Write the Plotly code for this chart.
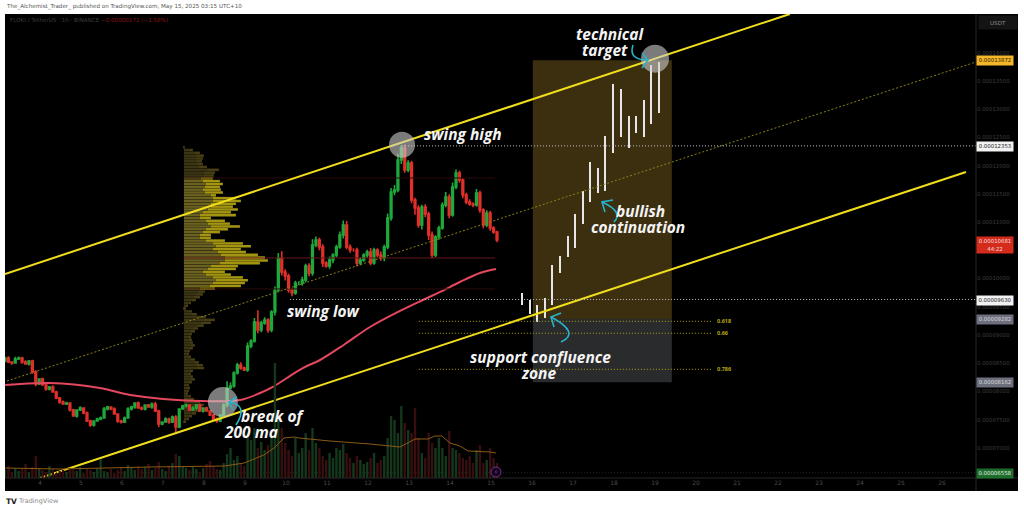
import numpy as np
import plotly.graph_objects as go

PRICE_UNIT = 1e-8
FIRST_BAR_DAY = 3.146
BAR_STEP_DAYS = 1 / 12

CLOSES = [
    8593, 8522, 8504, 8575, 8593, 8522, 8486, 8540, 8344, 8132,
    8220, 8114, 8043, 8079, 7990, 7884, 7813, 7777, 7795, 7671,
    7564, 7671, 7706, 7618, 7476, 7405, 7476, 7511, 7529, 7688,
    7724, 7688, 7600, 7476, 7458, 7529, 7688, 7724, 7795, 7706,
    7688, 7759, 7724, 7777, 7653, 7423, 7458, 7511, 7458, 7547,
    7369, 7688, 7742, 7759, 7671, 7706, 7759, 7653, 7706, 7653,
    7582, 7511, 7476, 7582, 7759, 8061, 8096, 8327, 8469, 8415,
    8380, 8805, 8894, 9231, 9089, 9213, 9266, 9089, 9408, 9798,
    10366, 10117, 10046, 9798, 9745, 9922, 9922, 9975, 10224, 10100,
    10596, 10685, 10561, 10277, 10224, 10330, 10419, 10561, 10773, 10951,
    10561, 10507, 10507, 10277, 10330, 10419, 10472, 10277, 10507, 10419,
    10366, 10561, 11075, 11536, 11571, 12103, 12316, 11926, 12050, 11394,
    11252, 10951, 11270, 11146, 10773, 10419, 10738, 10898, 11305, 11447,
    11128, 11624, 11873, 11749, 11483, 11359, 11323, 11305, 11518, 11217,
    10951, 11164, 10898, 10827, 10685,
]
WICK_UP = [
    20, 30, 15, 40, 25, 20, 30, 15, 20, 30,
    15, 25, 20, 15, 30, 20, 15, 25, 20, 10,
    20, 15, 30, 10, 25, 20, 15, 20, 25, 35,
    20, 15, 30, 10, 20, 25, 30, 20, 15, 25,
    30, 15, 20, 25, 40, 20, 15, 30, 20, 25,
    30, 15, 20, 25, 15, 30, 20, 25, 15, 20,
    15, 20, 25, 15, 30, 120, 60, 30, 40, 50,
    25, 60, 30, 70, 210, 40, 50, 30, 30, 60,
    90, 120, 50, 40, 30, 40, 30, 60, 40, 50,
    100, 60, 40, 50, 30, 60, 30, 40, 60, 80,
    70, 50, 30, 40, 50, 30, 40, 70, 40, 30,
    60, 40, 80, 70, 90, 110, 50, 60, 50, 40,
    40, 50, 40, 50, 40, 60, 30, 40, 50, 90,
    50, 80, 60, 40, 30, 40, 50, 30, 70, 40,
    30, 50, 40, 30, 20,
]
WICK_DOWN = [
    25, 20, 30, 15, 20, 30, 15, 25, 30, 40,
    20, 15, 30, 25, 15, 25, 30, 15, 20, 25,
    15, 30, 20, 25, 20, 30, 25, 15, 20, 15,
    25, 20, 15, 30, 25, 20, 15, 25, 30, 15,
    20, 25, 15, 30, 20, 60, 25, 15, 30, 20,
    100, 20, 15, 25, 20, 15, 30, 20, 25, 15,
    20, 25, 30, 20, 25, 40, 20, 30, 25, 30,
    20, 30, 40, 30, 60, 40, 30, 50, 40, 60,
    40, 60, 80, 50, 60, 30, 40, 50, 40, 60,
    50, 40, 60, 70, 30, 50, 60, 40, 30, 60,
    40, 50, 30, 60, 40, 30, 50, 40, 30, 40,
    50, 60, 40, 50, 60, 40, 70, 50, 40, 60,
    120, 50, 80, 60, 90, 60, 40, 50, 30, 40,
    60, 30, 40, 50, 60, 40, 30, 40, 30, 50,
    60, 40, 50, 30, 40,
]
VOLUMES = [
    8, 12, 6, 10, 7, 9, 14, 6, 11, 22,
    10, 8, 6, 12, 9, 5, 7, 8, 6, 10,
    8, 7, 11, 5, 9, 8, 6, 10, 19, 7,
    6, 9, 5, 8, 11, 7, 13, 10, 8, 12,
    9, 11, 14, 8, 10, 16, 9, 7, 12, 15,
    24, 22, 12, 10, 8, 11, 9, 6, 10, 14,
    17, 12, 9, 8, 15, 24, 30, 18, 22, 14,
    12, 45, 38, 50, 30, 36, 28, 33, 40, 115,
    62, 50, 35, 28, 22, 40, 25, 30, 45, 28,
    50, 35, 30, 22, 18, 25, 20, 30, 28, 34,
    25, 20, 15, 22, 18, 14, 16, 20, 25, 15,
    18, 22, 40, 62, 58, 45, 72, 55, 48, 45,
    70, 40, 25, 20, 45, 35, 30, 40, 30, 22,
    47, 30, 28, 25, 20, 18, 22, 15, 28, 33,
    15, 18, 30, 20, 15,
]

MA200_DAYS = [3.15, 4.24, 5.46, 6.2, 7.9, 8.88, 9.37, 9.68, 10.02, 10.41, 10.83, 11.44, 12.05, 12.78, 13.34, 13.76, 14.24, 14.73, 15.12]
MA200_PRICE = [8114, 8149, 8061, 7937, 7830, 7848, 7972, 8079, 8238, 8415, 8557, 8841, 9142, 9426, 9621, 9763, 9940, 10100, 10171]

VOLMA_DAYS = [3.15, 4.5, 6.68, 8.5, 8.98, 9.46, 9.71, 9.95, 10.2, 10.32, 11.07, 12.05, 12.78, 13.15, 13.46, 13.63, 13.8, 14.0, 14.24, 14.44, 14.98, 15.12]
VOLMA_VALUE = [10, 9, 11, 12, 15, 23, 30, 40, 41, 40, 37, 34, 31, 39, 39, 42, 42, 35, 32, 27, 26, 25]

PROJ_DAYS = [15.76, 15.95, 16.12, 16.32, 16.49, 16.68, 16.88, 17.05, 17.24, 17.41, 17.61, 17.78, 17.98, 18.17, 18.37, 18.54, 18.73, 18.9, 19.1]
PROJ_HIGH = [9745, 9621, 9532, 9657, 10242, 10401, 10756, 11146, 11554, 12068, 11961, 12529, 13451, 13362, 12883, 12883, 13167, 13788, 13841]
PROJ_LOW = [9532, 9373, 9231, 9302, 9532, 10099, 10383, 10543, 10968, 11359, 11518, 11554, 12227, 12511, 12316, 12582, 12511, 12742, 12936]

UPPER_DAYS, UPPER_PRICE = [3.146, 22.29], [10082, 14692]
MIDDLE_DAYS, MIDDLE_PRICE = [3.195, 26.83], [8185, 13841]
LOWER_DAYS, LOWER_PRICE = [4.0, 26.585], [6465, 11890]

SWING_HIGH_PRICE, SWING_LOW_PRICE = 12353, 9630
SWING_HIGH_START, SWING_LOW_START = 12.83, 10.10
FIB_LEVELS = ["0.618", "0.66", "0.786"]
FIB_PRICE = [9243, 9031, 8392]
FIB_START, FIB_END = 13.24, 20.37

ZONE_START, ZONE_END = 16.02, 19.41
ZONE_TOP, ZONE_MID, ZONE_BOTTOM = 13872, 9282, 8162

PROFILE_START = 7.51
PROFILE_TOP = 12330
PROFILE_ROW = 50.2
VALUE_HIGH, POC, VALUE_LOW = 11784, 10366, 9816
PROFILE_TOTAL = [
    1, 9, 16, 20, 19, 18, 19, 23, 35, 31, 30,
    29, 36, 39, 36, 37, 39, 32, 52, 57, 52, 49, 54, 47, 52, 27, 41, 46, 56, 44,
    36, 27, 27, 41, 59, 67, 57, 62, 74, 81, 84, 76, 54, 52, 41, 47, 59, 64, 61, 57, 31,
    21, 19, 16, 12, 7, 4, 2,
    8, 13, 22, 31, 27, 20, 14, 11, 8, 7, 8, 9, 11, 9, 6, 5, 7, 11, 15, 19, 20, 9,
    7, 9, 11, 8, 5, 6, 5, 4, 7, 10, 16, 20, 18, 16, 12, 8, 5, 2,
]
PROFILE_UP = [
    1, 6, 11, 13, 12, 12, 13, 15, 23, 20, 20,
    17, 19, 22, 21, 19, 21, 27, 29, 29, 27, 27, 24, 19, 16, 16, 22, 24, 27, 22,
    19, 16, 16, 22, 29, 32, 29, 34, 37, 41, 41, 36, 27, 24, 19, 22, 29, 32, 29, 26, 16,
    14, 12, 10, 8, 5, 3, 1,
    5, 8, 14, 20, 17, 13, 9, 7, 5, 4, 5, 6, 7, 6, 4, 3, 5, 7, 10, 12, 13, 6,
    5, 6, 7, 5, 3, 4, 3, 3, 5, 6, 10, 13, 12, 10, 8, 5, 3, 1,
]

PRICE_TICKS = [14000, 13500, 13000, 12500, 12000, 11500, 11000, 10000, 9500, 9000, 8500, 8000, 7500, 7000]
DAY_TICKS = list(range(4, 27))

W, H = 1024, 510
LEFT, RIGHT, TOP, BOTTOM = 5, 976, 14, 478
CHART_RIGHT, CHART_BOTTOM = 1018, 491


def fx(px):
    return (px - LEFT) / (RIGHT - LEFT)


def fy(py):
    return (BOTTOM - py) / (BOTTOM - TOP)


def pr(values):
    return np.array(values, dtype=float) * PRICE_UNIT


closes = np.array(CLOSES, dtype=float)
opens = np.concatenate([[8540.0], closes[:-1]])
highs = np.maximum(opens, closes) + np.array(WICK_UP)
lows = np.minimum(opens, closes) - np.array(WICK_DOWN)
days = FIRST_BAR_DAY + np.arange(len(closes)) * BAR_STEP_DAYS

fig = go.Figure()

# volume profile
rows = PROFILE_TOP - np.arange(len(PROFILE_TOTAL)) * PROFILE_ROW
total = np.array(PROFILE_TOTAL, dtype=float)
up = np.array(PROFILE_UP, dtype=float)
inside = (rows <= VALUE_HIGH) & (rows >= VALUE_LOW)
scale = 1 / 41
fig.add_trace(go.Bar(y=pr(rows), x=up * scale, base=PROFILE_START, orientation="h", width=PROFILE_ROW * PRICE_UNIT * 0.9,
                     marker=dict(color=["#6a6120" if k else "#3c3514" for k in inside], line_width=0), hoverinfo="skip"))
fig.add_trace(go.Bar(y=pr(rows), x=(total - up) * scale, base=PROFILE_START + up * scale, orientation="h",
                     width=PROFILE_ROW * PRICE_UNIT * 0.9,
                     marker=dict(color=["#a39412" if k else "#463e14" for k in inside], line_width=0), hoverinfo="skip"))

# volume bars
vol_colors = ["#15381d" if c >= o else "#380f11" for c, o in zip(closes, opens)]
fig.add_trace(go.Bar(x=days, y=VOLUMES, yaxis="y2", width=BAR_STEP_DAYS * 0.7,
                     marker=dict(color=vol_colors, line_width=0), hoverinfo="skip"))

# projected path
fig.add_trace(go.Bar(x=PROJ_DAYS, y=pr(np.array(PROJ_HIGH) - np.array(PROJ_LOW)), base=pr(PROJ_LOW), width=0.04,
                     marker=dict(color="#e6e6e6", line_width=0), hoverinfo="skip"))

# candles
fig.add_trace(go.Candlestick(x=days, open=pr(opens), high=pr(highs), low=pr(lows), close=pr(closes),
                             increasing=dict(line=dict(color="#1fa83c", width=1.6), fillcolor="#1fa83c"),
                             decreasing=dict(line=dict(color="#e0302a", width=1.6), fillcolor="#e0302a"),
                             whiskerwidth=0, hoverinfo="skip"))

# moving averages
fig.add_trace(go.Scatter(x=VOLMA_DAYS, y=VOLMA_VALUE, yaxis="y2", mode="lines", line=dict(color="#8c5a14", width=1)))
fig.add_trace(go.Scatter(x=MA200_DAYS, y=pr(MA200_PRICE), mode="lines", line=dict(color="#e5475f", width=2, shape="spline")))

# value area lines
for price, colour in [(VALUE_HIGH, "#2e0a0a"), (POC, "#681616"), (VALUE_LOW, "#2e0a0a")]:
    fig.add_trace(go.Scatter(x=[PROFILE_START, 15.1], y=pr([price, price]), mode="lines", line=dict(color=colour, width=1)))

# channel
fig.add_trace(go.Scatter(x=MIDDLE_DAYS, y=pr(MIDDLE_PRICE), mode="lines", line=dict(color="#8d8214", width=1, dash="2px,2px")))
fig.add_trace(go.Scatter(x=UPPER_DAYS, y=pr(UPPER_PRICE), mode="lines", line=dict(color="#f0de1c", width=2)))
fig.add_trace(go.Scatter(x=LOWER_DAYS, y=pr(LOWER_PRICE), mode="lines", line=dict(color="#f0de1c", width=2)))

# horizontal levels
for start, price in [(SWING_HIGH_START, SWING_HIGH_PRICE), (SWING_LOW_START, SWING_LOW_PRICE)]:
    fig.add_trace(go.Scatter(x=[start, 26.83], y=pr([price, price]), mode="lines", line=dict(color="#c4c4c4", width=1, dash="1px,2px")))
for price in FIB_PRICE:
    fig.add_trace(go.Scatter(x=[FIB_START, FIB_END], y=pr([price, price]), mode="lines", line=dict(color="#b3a512", width=1, dash="1px,2px")))
fig.add_trace(go.Scatter(x=[3.146, 26.83], y=pr([6558, 6558]), mode="lines", line=dict(color="#1a2a1a", width=1, dash="1px,2px")))

shapes = [
    dict(type="rect", xref="paper", yref="paper", x0=0, x1=fx(CHART_RIGHT), y0=fy(CHART_BOTTOM), y1=1,
         fillcolor="#000000", line_width=0, layer="below"),
    dict(type="rect", xref="x", yref="y", x0=ZONE_START, x1=ZONE_END, y0=ZONE_MID * PRICE_UNIT, y1=ZONE_TOP * PRICE_UNIT,
         fillcolor="#3c2f10", line_width=0, layer="below"),
    dict(type="rect", xref="x", yref="y", x0=ZONE_START, x1=ZONE_END, y0=ZONE_BOTTOM * PRICE_UNIT, y1=ZONE_MID * PRICE_UNIT,
         fillcolor="#2a2b2d", line_width=0, layer="below"),
    dict(type="line", xref="paper", yref="paper", x0=1, x1=1, y0=fy(CHART_BOTTOM), y1=1, line=dict(color="#262626", width=1)),
    dict(type="line", xref="paper", yref="paper", x0=0, x1=fx(CHART_RIGHT), y0=0, y1=0, line=dict(color="#262626", width=1)),
]

# highlight circles
for day, price, radius in [(12.83, 12373, 13), (8.46, 7812, 15), (19.0, 13899, 14)]:
    shapes.append(dict(type="circle", xref="x", yref="y", xsizemode="pixel", ysizemode="pixel",
                       xanchor=day, yanchor=price * PRICE_UNIT, x0=-radius, x1=radius, y0=-radius, y1=radius,
                       fillcolor="rgba(205,205,205,0.6)", line_width=0))


def stroke(pts, curve=True):
    (x0, y0) = pts[0]
    d = f"M {fx(x0):.5f} {fy(y0):.5f}"
    if curve:
        for i in range(1, len(pts) - 1, 2):
            (cx, cy), (ex, ey) = pts[i], pts[i + 1]
            d += f" Q {fx(cx):.5f} {fy(cy):.5f} {fx(ex):.5f} {fy(ey):.5f}"
    else:
        for (ex, ey) in pts[1:]:
            d += f" L {fx(ex):.5f} {fy(ey):.5f}"
    return dict(type="path", xref="paper", yref="paper", path=d, line=dict(color="#27b4cb", width=1.6))


ARROWS = [
    ([(236, 425), (249, 405), (229, 402)], [(237, 397), (229, 402), (233, 410)]),
    ([(633, 45), (628, 60), (648, 60)], [(642, 53), (648, 60), (642, 68)]),
    ([(614, 222), (624, 212), (602, 202)], [(613, 200), (602, 202), (605, 212)]),
    ([(561, 342), (581, 333), (551, 317)], [(561, 313), (551, 317), (554, 327)]),
]
for curve_pts, head_pts in ARROWS:
    shapes.append(stroke(curve_pts))
    shapes.append(stroke(head_pts, curve=False))

# purple badge
shapes.append(dict(type="circle", xref="paper", yref="paper", x0=fx(491), x1=fx(501), y0=fy(477), y1=fy(467),
                   fillcolor="#12051a", line=dict(color="#7a2f8f", width=1)))
shapes.append(dict(type="path", xref="paper", yref="paper",
                   path=f"M {fx(497):.5f} {fy(469):.5f} L {fx(494.5):.5f} {fy(472.5):.5f} L {fx(496.3):.5f} {fy(472.5):.5f} "
                        f"L {fx(495):.5f} {fy(475):.5f} L {fx(497.5):.5f} {fy(471.5):.5f} L {fx(495.8):.5f} {fy(471.5):.5f} Z",
                   fillcolor="#7a2f8f", line_width=0))

annotations = []


def label(px, py, text, size=15.5, color="#f4f4f4", family="Open Sans", bold=True, italic=True, anchor="center", bg=None, w=None, h=None):
    t = text
    if bold:
        t = f"<b>{t}</b>"
    if italic:
        t = f"<i>{t}</i>"
    annotations.append(dict(x=fx(px), y=fy(py), xref="paper", yref="paper", text=t, showarrow=False, xanchor=anchor, yanchor="middle",
                            font=dict(size=size, color=color, family=family), bgcolor=bg, width=w, height=h, borderpad=0, align="center"))


label(610, 34, "technical")
label(605, 50, "target")
label(463, 134, "swing high")
label(323, 311, "swing low")
label(272, 416, "break of")
label(251, 432, "200 ma")
label(640, 211, "bullish")
label(638, 227, "continuation")
label(540, 357, "support confluence")
label(538, 373, "zone")

for price_label, py in zip(FIB_LEVELS, [321.3, 333.3, 369.3]):
    label(716, py, price_label, size=5.5, color="#b3a512", family="Noto Sans", italic=False, anchor="left")

small = dict(family="DejaVu Sans", bold=False, italic=False, anchor="left")
label(5, 7, "The_Alchemist_Trader_ published on TradingView.com, May 15, 2025 03:15 UTC+10", size=5.6, color="#555555", **small)
label(9, 20.5, "FLOKI / TetherUS · 1h · BINANCE", size=5.6, color="#3c3c3c", **small)
label(100, 20.5, "−0.00000171 (−1.58%)", size=5.6, color="#8a1414", **small)
label(5, 501, "TV", size=7.5, color="#222222", family="DejaVu Sans", bold=True, italic=False, anchor="left")
label(17, 501, "TradingView", size=6.5, color="#8a8a8a", **small)

badge = dict(size=5.4, family="DejaVu Sans", bold=False, italic=False, w=36, h=8.5)
label(995, 60.5, "0.00013872", bg="#f4b62a", color="#2a2000", **badge)
label(995, 146.5, "0.00012353", bg="#f2f2f2", color="#222222", **badge)
label(995, 244.5, "0.00010681<br>44:22", bg="#d42b1d", color="#f5dcdc", size=5.4, family="DejaVu Sans", bold=False, italic=False, w=36, h=16)
label(995, 300, "0.00009630", bg="#f2f2f2", color="#222222", **badge)
label(995, 319.5, "0.00009282", bg="#6d6f7e", color="#d8d8d8", **badge)
label(995, 382.5, "0.00008162", bg="#6d6f7e", color="#d8d8d8", **badge)
label(995, 473, "0.00006558", bg="#1e6d2c", color="#e0f0e0", **badge)
label(998, 22, "USDT", bg="#141414", color="#8a8a8a", size=5.6, family="DejaVu Sans", bold=False, italic=False, w=38, h=13)

fig.update_layout(
    width=W, height=H, autosize=False, showlegend=False, barmode="overlay",
    paper_bgcolor="#ffffff", plot_bgcolor="rgba(0,0,0,0)",
    margin=dict(l=LEFT, r=W - RIGHT, t=TOP, b=H - BOTTOM, pad=0),
    xaxis=dict(range=[3.146, 26.829], tickvals=DAY_TICKS, ticktext=[str(d) for d in DAY_TICKS], showgrid=False, zeroline=False,
               rangeslider=dict(visible=False), tickfont=dict(size=6, color="#4a4a4a", family="DejaVu Sans"), ticklen=2, tickcolor="rgba(0,0,0,0)",
               showline=False),
    yaxis=dict(range=[6465 * PRICE_UNIT, 14691 * PRICE_UNIT], side="right", tickvals=pr(PRICE_TICKS), ticktext=[f"{p * PRICE_UNIT:.8f}" for p in PRICE_TICKS],
               showgrid=False, zeroline=False, tickfont=dict(size=5.4, color="#3e3e3e", family="DejaVu Sans"), ticklen=4, tickcolor="rgba(0,0,0,0)",
               showline=False),
    yaxis2=dict(range=[0, 464], overlaying="y", visible=False),
    shapes=shapes, annotations=annotations,
)

fig.write_html("out.html", config={"displayModeBar": False},
               post_script="document.body.style.margin='0';")
